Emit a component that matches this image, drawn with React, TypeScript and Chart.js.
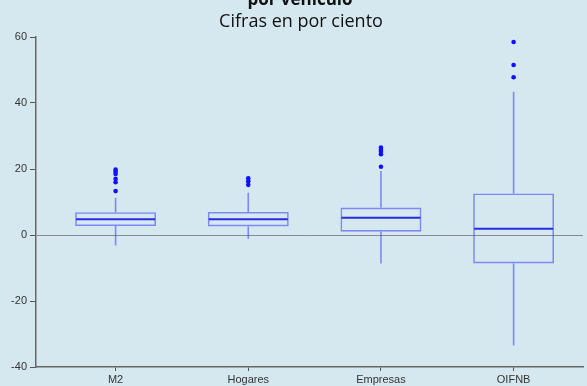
import React, { useEffect, useRef } from "react";
import { Chart, registerables } from "chart.js";

Chart.register(...registerables);

const categories = ["M2", "Hogares", "Empresas", "OIFNB"];
const q1 = [2.7, 2.6, 1.0, -8.6];
const q3 = [6.9, 7.0, 8.3, 12.6];
const medians = [4.75, 4.75, 5.2, 1.9];
const whiskerLow = [-3.2, -1.1, -8.6, -33.5];
const whiskerHigh = [11.3, 12.8, 19.4, 43.4];
const outliersM2 = [19.8, 19.2, 18.5, 17.0, 16.0, 13.3];
const outliersHogares = [17.2, 16.3, 15.2];
const outliersEmpresas = [26.5, 25.8, 25.2, 24.5, 20.7];
const outliersOIFNB = [58.5, 51.5, 47.8];
const yTicks = [-40, -20, 0, 20, 40, 60];

const titleText = "por vehículo";
const subtitleText = "Cifras en por ciento";

const BOX_COLOR = "rgba(40,40,255,0.5)";
const MEDIAN_COLOR = "rgba(20,20,230,0.9)";
const POINT_COLOR = "#1010ff";
const BG = "#d6e8ef";

export default function App() {
  const ref = useRef<HTMLCanvasElement | null>(null);

  useEffect(() => {
    if (!ref.current) return;
    const outlierSets = [outliersM2, outliersHogares, outliersEmpresas, outliersOIFNB];
    const outlierPoints: { x: number; y: number }[] = [];
    outlierSets.forEach((arr, i) => arr.forEach((v) => outlierPoints.push({ x: i, y: v })));

    const boxPlugin = {
      id: "boxExtras",
      afterDatasetsDraw(chart: any) {
        const ctx = chart.ctx;
        const meta = chart.getDatasetMeta(0);
        const ys = chart.scales.y;
        ctx.save();
        meta.data.forEach((el: any, i: number) => {
          const { x, width } = el.getProps(["x", "width"], true);
          ctx.strokeStyle = BOX_COLOR;
          ctx.lineWidth = 1.6;
          ctx.beginPath();
          ctx.moveTo(x, ys.getPixelForValue(q3[i]));
          ctx.lineTo(x, ys.getPixelForValue(whiskerHigh[i]));
          ctx.moveTo(x, ys.getPixelForValue(q1[i]));
          ctx.lineTo(x, ys.getPixelForValue(whiskerLow[i]));
          ctx.stroke();
          ctx.strokeStyle = MEDIAN_COLOR;
          ctx.lineWidth = 2;
          ctx.beginPath();
          const my = ys.getPixelForValue(medians[i]);
          ctx.moveTo(x - width / 2 + 1, my);
          ctx.lineTo(x + width / 2 - 1, my);
          ctx.stroke();
        });
        ctx.restore();
      },
      afterDraw(chart: any) {
        const ctx = chart.ctx;
        ctx.save();
        ctx.fillStyle = "#111";
        ctx.textAlign = "center";
        ctx.textBaseline = "alphabetic";
        ctx.font = "bold 17px 'Open Sans'";
        ctx.fillText(titleText, 300, 5);
        ctx.font = "18px 'Open Sans'";
        ctx.fillText(subtitleText, 301, 27);
        ctx.restore();
      },
    };

    const chart = new Chart(ref.current, {
      type: "bar",
      data: {
        datasets: [
          {
            type: "bar",
            data: categories.map((_, i) => ({ x: i, y: [q1[i], q3[i]] })) as any,
            backgroundColor: "rgba(0,0,0,0)",
            borderColor: BOX_COLOR,
            borderWidth: 1.6,
            borderSkipped: false,
            barPercentage: 0.61,
            categoryPercentage: 1,
          } as any,
          {
            type: "scatter",
            data: outlierPoints,
            pointRadius: 2.3,
            pointBackgroundColor: POINT_COLOR,
            pointBorderWidth: 0,
          } as any,
        ],
      },
      plugins: [boxPlugin],
      options: {
        responsive: false,
        animation: false,
        layout: { padding: { top: 37, left: 0, right: 0, bottom: 0 } },
        plugins: { legend: { display: false }, tooltip: { enabled: false }, title: { display: false } },
        scales: {
          x: {
            type: "linear",
            min: -0.6,
            max: 3.523,
            offset: false,
            afterBuildTicks: (scale: any) => {
              scale.ticks = categories.map((_, i) => ({ value: i }));
            },
            afterFit: (scale: any) => {
              scale.height = 19;
            },
            ticks: {
              autoSkip: false,
              maxRotation: 0,
              padding: 2,
              color: "#333",
              font: { family: "'Liberation Sans'", size: 11 },
              callback: (v: any) => categories[v] ?? "",
            },
            grid: { offset: false, color: "rgba(0,0,0,0)", tickColor: "#555", tickLength: 4, drawOnChartArea: false },
            border: { display: true, color: "#666", width: 1.5 },
          },
          y: {
            type: "linear",
            min: -40,
            max: 60,
            afterBuildTicks: (scale: any) => {
              scale.ticks = yTicks.map((v) => ({ value: v }));
            },
            afterFit: (scale: any) => {
              scale.width = 36;
            },
            ticks: {
              padding: 3,
              color: "#333",
              font: { family: "'Liberation Sans'", size: 11 },
            },
            grid: {
              color: (c: any) => (c.tick && c.tick.value === 0 ? "rgba(80,80,80,0.6)" : "rgba(0,0,0,0)"),
              tickColor: "#555",
              tickLength: 6,
              lineWidth: 1,
            },
            border: { display: true, color: "#666", width: 1.5 },
          },
        },
      } as any,
    });
    return () => chart.destroy();
  }, []);

  return (
    <div style={{ position: "fixed", left: 0, top: 0, width: 587, height: 386, background: BG, overflow: "hidden" }}>
      <canvas ref={ref} width={587} height={386} style={{ display: "block" }} />
    </div>
  );
}
